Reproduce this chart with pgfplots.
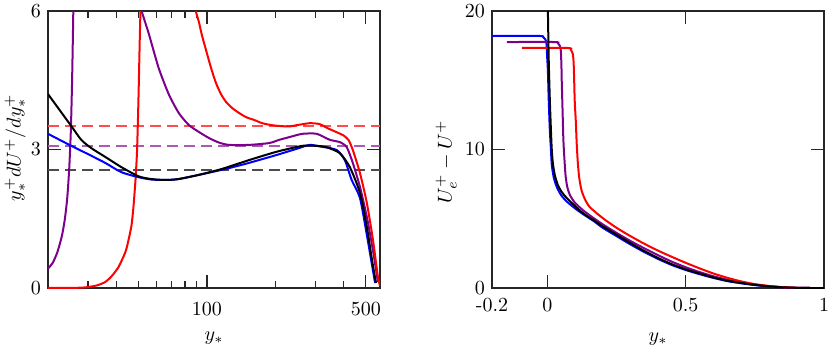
\documentclass[border=0pt]{standalone}
\usepackage{pgfplots}
\pgfplotsset{compat=1.18}
\definecolor{mpurple}{rgb}{0.49,0.0,0.55}
\definecolor{axgray}{rgb}{0.15,0.15,0.15}

\pgfplotsset{
  mycurve/.style={line width=1pt, smooth, tension=0.4, no marks},
  mydash/.style={line width=1pt, no marks, dash pattern=on 5.5pt off 3pt},
}

\begin{document}
\begin{tikzpicture}
\useasboundingbox (-24pt,-30.5pt) rectangle (391pt,144pt);

% left panel
\begin{axis}[scale only axis, width=166pt, height=138.5pt,
  axis line style={axgray, line width=0.6pt},
  tick style={axgray, line width=0.6pt},
  major tick length=6.5pt, minor tick length=3.5pt,
  xmode=log, xmin=20, xmax=577, ymin=0, ymax=6,
  xtick={100,500}, xticklabels={100,500},
  minor xtick={30,40,50,60,70,80,90,200,300,400},
  ytick={0,3,6},
  xticklabel style={yshift=-3.7pt},
  xlabel={$y_*$}, ylabel={$y_*^+ dU^+/dy_*^+$},
  xlabel style={at={(axis description cs:0.5,-0.18)}, anchor=center},
  ylabel style={at={(axis description cs:-0.099,0.507)}, anchor=center},
]
\addplot[mydash, red!70!white] coordinates {(20,3.51) (577,3.51)};
\addplot[mydash, mpurple!65!white] coordinates {(20,3.08) (577,3.08)};
\addplot[mydash, black!70!white] coordinates {(20,2.55) (577,2.55)};

\addplot[mycurve, mpurple] coordinates {
  (20,0.42) (21,0.55) (22,0.78) (23,1.12) (23.7,1.48) (24.3,1.95) (24.8,2.6)
  (25.2,3.4) (25.5,4.4) (25.7,5.3) (25.9,6.3)};
\addplot[mycurve, mpurple] coordinates {
  (50.5,6.2) (51.6,6.0) (55.4,5.52) (61.3,4.77) (67.9,4.20) (75.2,3.79)
  (83.3,3.53) (92.2,3.38) (102,3.25) (113,3.15) (125,3.10) (153,3.10)
  (188,3.14) (208,3.21) (231,3.27) (263,3.34) (304,3.34) (347,3.21)
  (384,3.16) (412,3.05) (438,2.71) (471,2.19) (505,1.54) (537,0.82)
  (565,0.13)};

\addplot[mycurve, red] coordinates {
  (20,0.0) (27,0.005) (30,0.02) (33,0.06) (35.7,0.13) (38,0.25) (40.8,0.45)
  (43.8,0.78) (45.2,1.04) (46.6,1.36) (47.5,1.75) (48.5,2.34) (49.2,2.9)
  (49.7,3.6) (50.2,4.5) (50.6,5.3) (51,6.0) (51.2,6.4)};
\addplot[mycurve, red] coordinates {
  (88.5,6.3) (89.4,6.0) (92.2,5.76) (95,5.48) (99,5.16) (104.2,4.77)
  (109.6,4.44) (115.3,4.20) (121.4,4.03) (129,3.90) (138.6,3.79)
  (148.8,3.70) (161.4,3.64) (175,3.57) (191.6,3.53) (208,3.51) (230,3.50)
  (250,3.53) (283,3.57) (313,3.55) (340,3.46) (370,3.38) (400,3.30)
  (420,3.20) (438,2.99) (471,2.49) (505,1.84) (537,1.05) (565,0.24)
  (577,0.05)};

\addplot[mycurve, blue] coordinates {
  (20,3.34) (25.3,3.08) (30,2.90) (35.7,2.71) (42,2.51) (50,2.40) (57,2.35)
  (66,2.34) (75,2.36) (92,2.45) (121,2.58) (153,2.71) (202,2.88) (250,3.02)
  (283,3.10) (320,3.06) (372,2.99) (404,2.77) (433,2.34) (471,1.95)
  (505,1.15) (532,0.50) (549,0.11)};

\addplot[mycurve, black] coordinates {
  (20,4.20) (25.3,3.51) (28,3.21) (31,3.03) (35.7,2.84) (42,2.62) (50,2.42)
  (57,2.36) (66,2.34) (75,2.36) (92,2.45) (116.5,2.58) (153,2.77) (202,2.95)
  (263,3.08) (300,3.08) (336,3.05) (384,2.92) (425,2.62) (471,2.06)
  (505,1.32) (532,0.61) (554,0.11)};
\end{axis}

% right panel
\begin{axis}[scale only axis, width=166pt, height=138.5pt,
  axis line style={axgray, line width=0.6pt},
  tick style={axgray, line width=0.6pt},
  major tick length=6.5pt, minor tick length=3.5pt,
  at={(222pt,0)},
  xmin=-0.2, xmax=1, ymin=0, ymax=20,
  xtick={-0.2,0,0.5,1}, xticklabels={-0.2,0,0.5,1},
  ytick={0,10,20},
  xticklabel style={yshift=-1.5pt},
  xlabel={$y_*$}, ylabel={$U_e^+ - U^+$},
  xlabel style={at={(axis description cs:0.5,-0.185)}, anchor=center},
  ylabel style={at={(axis description cs:-0.138,0.455)}, anchor=center},
]
\addplot[mycurve, blue] coordinates {
  (-0.2,18.2) (-0.03,18.2) (-0.015,18.12) (-0.007,17.95) (-0.003,17.6)
  (-0.001,16.8) (0.002,15.7) (0.005,13.6) (0.009,11.4) (0.013,10.0)
  (0.016,8.9) (0.023,8.0) (0.034,7.3) (0.05,6.7) (0.07,6.25) (0.1,5.75)
  (0.128,5.35) (0.17,4.8) (0.2,4.35) (0.25,3.75) (0.3,3.15) (0.35,2.6)
  (0.4,2.1) (0.45,1.66) (0.5,1.3) (0.55,1.0) (0.6,0.73) (0.65,0.5)
  (0.7,0.34) (0.75,0.21) (0.8,0.11) (0.85,0.05) (0.9,0.01) (0.95,0) (1,0)};

\addplot[mycurve, mpurple] coordinates {
  (-0.146,17.76) (0.027,17.76) (0.038,17.68) (0.045,17.5) (0.049,17.1)
  (0.051,16.0) (0.052,15.0) (0.055,12.85) (0.058,10.7) (0.062,9.24)
  (0.066,8.1) (0.072,7.3) (0.082,6.7) (0.1,6.15) (0.13,5.6) (0.16,5.15)
  (0.2,4.6) (0.25,3.98) (0.3,3.4) (0.35,2.87) (0.4,2.37) (0.45,1.9)
  (0.5,1.5) (0.55,1.15) (0.6,0.85) (0.65,0.6) (0.7,0.4) (0.75,0.25)
  (0.8,0.13) (0.85,0.06) (0.9,0.015) (0.95,0) (1,0)};

\addplot[mycurve, red] coordinates {
  (-0.092,17.33) (0.074,17.33) (0.085,17.2) (0.092,16.9) (0.095,16.3)
  (0.097,15.0) (0.099,13.5) (0.103,12.0) (0.106,10.5) (0.110,9.1)
  (0.115,8.0) (0.123,7.1) (0.135,6.45) (0.153,5.85) (0.2,5.05) (0.25,4.35)
  (0.3,3.75) (0.35,3.2) (0.4,2.7) (0.45,2.25) (0.5,1.82) (0.55,1.42)
  (0.6,1.05) (0.65,0.74) (0.7,0.48) (0.75,0.28) (0.8,0.15) (0.85,0.06)
  (0.9,0.02) (0.95,0) (1,0)};

\addplot[mycurve, black] coordinates {
  (0,21) (0.002,20) (0.005,16.5) (0.009,13.6) (0.013,11.4) (0.016,10.0)
  (0.020,9.0) (0.027,8.15) (0.038,7.44) (0.052,6.93) (0.07,6.5) (0.1,5.92)
  (0.128,5.42) (0.171,4.84) (0.2,4.45) (0.25,3.85) (0.3,3.25) (0.35,2.68)
  (0.4,2.17) (0.45,1.72) (0.5,1.35) (0.55,1.05) (0.6,0.76) (0.65,0.53)
  (0.7,0.37) (0.75,0.23) (0.8,0.12) (0.85,0.05) (0.9,0.015) (0.95,0) (1,0)};
\end{axis}
\end{tikzpicture}
\end{document}
